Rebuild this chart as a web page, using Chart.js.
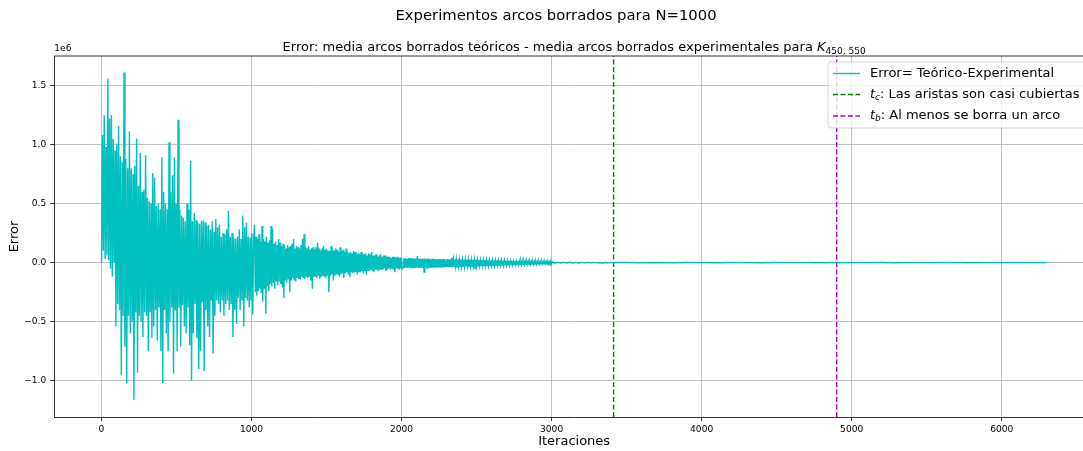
<!DOCTYPE html>
<html lang="es">
<head>
    <meta charset="UTF-8">
    <title>Experimentos arcos borrados para N=1000</title>
    <script src="https://cdn.jsdelivr.net/npm/chart.js"></script>
    <style>
        html, body { margin: 0; padding: 0; background: #fff; overflow: hidden; }
        #wrap { width: 1100px; height: 451px; }
    </style>
</head>
<body>
    <div id="wrap"><canvas id="errorChart" width="1100" height="451"></canvas></div>

    <script>
        // error (in units of 1e6), one block of iterations per array
        const errStartA = 0, errStepA = 6;
        const errA = [
            0.00, 1.08, 0.10, 1.25, 0.03, 0.98, 0.06, 1.56, 0.02, 1.22,
            -0.05, 1.25, -0.12, 1.05, 0.00, 0.95, -0.54, 1.01, -0.35, 1.16,
            -0.40, 0.90, -0.95, 0.85, -0.45, 1.61, -0.71, 0.88, -1.02, 0.80,
            -0.45, 1.11, -0.60, 0.80, -0.50, 0.75, -1.16, 0.82, -0.42, 1.05,
            -0.93, 0.65, -0.45, 0.93, -0.50, 0.60, -0.63, 0.62, -0.42, 0.91,
            -0.45, 0.55, -0.75, 0.52, -0.42, 0.50, -0.64, 0.76, -0.54, 0.72,
            -0.40, 0.48, -0.66, 0.50, -0.38, 0.45, -0.75, 0.89, -1.02, 0.60,
            -0.40, 0.50, -0.60, 0.45, -0.75, 1.02, -0.50, 0.60, -0.38, 0.74,
            -0.94, 0.89, -0.40, 0.50, -0.75, 1.21, -0.38, 0.45, -0.71, 0.40,
            -0.36, 0.38, -0.54, 0.35, -0.60, 0.50, -0.38, 0.45, -0.70, 0.86,
            -1.00, 0.35, -0.60, 0.42, -0.35, 0.36, -0.64, 0.34, -0.90, 0.33,
            -0.75, 0.35, -0.33, 0.36, -0.92, 0.34, -0.40, 0.31, -0.54, 0.32,
            -0.63, 0.28, -0.32, 0.35, -0.77, 0.26, -0.45, 0.37, -0.32, 0.30,
            -0.35, 0.32, -0.42, 0.22, -0.32, 0.25, -0.45, 0.24, -0.35, 0.28,
            -0.32, 0.44, -0.40, 0.22, -0.35, 0.25, -0.63, 0.21, -0.40, 0.20,
            -0.52, 0.22, -0.30, 0.28, -0.40, 0.20, -0.32, 0.40, -0.54, 0.30,
            -0.30, 0.34, -0.32, 0.22, -0.38, 0.21, -0.32, 0.25, -0.44, 0.20
        ];
        const errStartB = 1020, errStepB = 5;
        const errB = [
            0.32, -0.25, 0.22, -0.28, 0.20, -0.24, 0.24, -0.22, 0.18, -0.26,
            0.31, -0.33, 0.20, -0.22, 0.18, -0.43, 0.22, -0.20, 0.17, -0.24,
            0.19, -0.18, 0.31, -0.20, 0.29, -0.17, 0.16, -0.22, 0.18, -0.16,
            0.15, -0.19, 0.20, -0.16, 0.17, -0.18, 0.14, -0.21, 0.16, -0.30,
            0.14, -0.15, 0.12, -0.17, 0.15, -0.14, 0.13, -0.25, 0.14, -0.15,
            0.16, -0.13, 0.20, -0.15, 0.12, -0.16, 0.14, -0.13, 0.13, -0.14,
            0.12, -0.14, 0.15, -0.12, 0.20, -0.13, 0.24, -0.14, 0.13, -0.12,
            0.12, -0.13, 0.14, -0.12, 0.11, -0.15, 0.12, -0.22, 0.13, -0.12,
            0.11, -0.12, 0.13, -0.13, 0.17, -0.11, 0.12, -0.14, 0.10, -0.12,
            0.12, -0.11, 0.14, -0.12, 0.11, -0.13, 0.12, -0.11, 0.10, -0.25,
            0.10, -0.11, 0.14, -0.10, 0.11, -0.15, 0.10, -0.11, 0.12, -0.10,
            0.11, -0.10, 0.09, -0.12, 0.13, -0.10, 0.10, -0.09, 0.11, -0.13,
            0.09, -0.09, 0.12, -0.08, 0.09, -0.10, 0.08, -0.12, 0.09, -0.08,
            0.08, -0.09, 0.10, -0.08, 0.09, -0.08, 0.07, -0.10, 0.08, -0.08,
            0.07, -0.08, 0.09, -0.07, 0.08, -0.09, 0.07, -0.07, 0.08, -0.10,
            0.06, -0.07, 0.08, -0.07, 0.07, -0.06, 0.09, -0.07, 0.06, -0.08,
            0.06, -0.06, 0.07, -0.06, 0.05, -0.07, 0.06, -0.06, 0.07, -0.06,
            0.05, -0.06, 0.06, -0.05, 0.06, -0.07, 0.05, -0.06, 0.05, -0.05,
            0.05, -0.06, 0.04, -0.05, 0.05, -0.06, 0.05, -0.08, 0.04, -0.05,
            0.05, -0.05, 0.04, -0.06, 0.045, -0.05, 0.04, -0.05
        ];
        const errStartC = 2010, errStepC = 5;
        const errC = [
            -0.04, 0.035, -0.045, 0.04, -0.038, 0.03, -0.042, 0.038, -0.035, 0.04,
            -0.045, 0.036, -0.04, 0.04, -0.05, 0.033, -0.04, 0.038, -0.036, 0.056,
            -0.04, 0.035, -0.043, 0.03, -0.038, 0.034, -0.045, 0.032, -0.08, 0.035,
            -0.04, 0.03, -0.045, 0.035, -0.038, 0.032, -0.04, 0.028, -0.042, 0.034,
            -0.038, 0.03, -0.04, 0.033, -0.035, 0.028, -0.042, 0.03, -0.036, 0.032,
            -0.04, 0.028, -0.035, 0.032, -0.038, 0.03, -0.034, 0.027, -0.037, 0.03,
            -0.034, 0.028, -0.036, 0.03, -0.032, 0.042, -0.035, 0.027, -0.033, 0.029,
            -0.032, 0.027, -0.035, 0.028, -0.03, 0.026, -0.034, 0.028, -0.031, 0.025,
            -0.03, 0.026, -0.032, 0.025, -0.029, 0.027, -0.031, 0.024, -0.03, 0.026,
            -0.029, 0.024, -0.031, 0.025, -0.028, 0.023, -0.05, 0.025, -0.028, 0.022,
            -0.026, 0.022, -0.027, 0.021, -0.025, 0.023, -0.026, 0.02, -0.024, 0.022,
            -0.025, 0.021, -0.024, 0.02, -0.026, 0.021, -0.023, 0.019, -0.024, 0.02,
            -0.022, 0.019, -0.023, 0.018, -0.021, 0.02, -0.022, 0.017, -0.021, 0.019,
            -0.021, 0.018, -0.02, 0.017, -0.022, 0.018, -0.019, 0.016, -0.02, 0.017,
            -0.018, 0.016, -0.019, 0.015, -0.017, 0.016, -0.018, 0.014, -0.017, 0.015,
            -0.017, 0.014, -0.016, 0.015, -0.018, 0.013, -0.016, 0.014, -0.015, 0.013,
            -0.014, 0.012, -0.015, 0.012, -0.013, 0.012, -0.014, 0.011, -0.013, 0.012,
            -0.013, 0.011, -0.012, 0.011, -0.014, 0.01, -0.012, 0.011, -0.012, 0.01,
            -0.011, 0.01, -0.012, 0.009, -0.01, 0.01, -0.011, 0.009, -0.01, 0.009,
            -0.01, 0.009, -0.011, 0.008, -0.01, 0.008, -0.02, 0.008, -0.009, 0.008
        ];
        const errStartD = 3020, errStepD = 20;
        const errD = [
            -0.004, 0.003, -0.004, 0.003, -0.003, 0.003, -0.003, 0.002, -0.003, 0.002,
            -0.002, 0.002, -0.002, 0.002, -0.002, 0.001, -0.006, 0.001, -0.002, 0.001
        ];
        const errStartE = 3500, errStepE = 100;
        const errE = [
            0.001, -0.001, 0.001, -0.001, 0.001, 0, -0.001, 0.001, 0, -0.001,
            0.001, 0, 0, -0.001, 0.001, 0, 0, 0.001, -0.001, 0,
            0, 0.001, 0, -0.001, 0, 0, 0.001, 0, 0
        ];

        const tC = 3413;   // t_c
        const tB = 4900;   // t_b

        const xTicks = [0, 1000, 2000, 3000, 4000, 5000, 6000];
        const yTicks = [-1.0, -0.5, 0.0, 0.5, 1.0, 1.5];
        const xMin = -315, xMax = 6615;
        const yMin = -1.307, yMax = 1.75;

        const legendLabels = ['Error= Teórico-Experimental', ': Las aristas son casi cubiertas', ': Al menos se borra un arco'];

        function toPoints(start, step, vals) {
            return vals.map((v, i) => ({ x: start + i * step, y: v }));
        }

        const errorPoints = [].concat(
            toPoints(errStartA, errStepA, errA),
            toPoints(errStartB, errStepB, errB),
            toPoints(errStartC, errStepC, errC),
            toPoints(errStartD, errStepD, errD),
            toPoints(errStartE, errStepE, errE)
        );

        const FONT = "'DejaVu Sans', sans-serif";
        const CYAN = '#00bfbf', GREEN = '#008000', MAGENTA = '#bf00bf';

        const decor = {
            id: 'decor',
            afterDraw(chart) {
                const ctx = chart.ctx;
                const a = chart.chartArea;
                ctx.save();
                // top / right spines
                ctx.strokeStyle = '#000';
                ctx.lineWidth = 0.8;
                ctx.beginPath();
                ctx.moveTo(a.left, a.top); ctx.lineTo(a.right, a.top); ctx.lineTo(a.right, a.bottom);
                ctx.stroke();

                ctx.fillStyle = '#000';
                // suptitle
                ctx.font = '14.8px ' + FONT;
                ctx.textAlign = 'center';
                ctx.textBaseline = 'middle';
                ctx.fillText('Experimentos arcos borrados para N=1000', 556, 16);

                // axes title with K_{450,550}
                const main = 'Error: media arcos borrados teóricos - media arcos borrados experimentales para ';
                ctx.font = '13px ' + FONT;
                const w1 = ctx.measureText(main).width;
                ctx.font = 'italic 13px ' + FONT;
                const wK = ctx.measureText('K').width;
                ctx.font = '9px ' + FONT;
                const wSub = ctx.measureText('450, 550').width;
                let x0 = (a.left + a.right) / 2 - (w1 + wK + wSub) / 2;
                ctx.textAlign = 'left';
                ctx.textBaseline = 'alphabetic';
                ctx.font = '13px ' + FONT;
                ctx.fillText(main, x0, 51);
                ctx.font = 'italic 13px ' + FONT;
                ctx.fillText('K', x0 + w1, 51);
                ctx.font = '9px ' + FONT;
                ctx.fillText('450, 550', x0 + w1 + wK, 54);

                // offset text
                ctx.font = '9.1px ' + FONT;
                ctx.textBaseline = 'bottom';
                ctx.fillText('1e6', a.left, 53);

                // axis labels
                ctx.font = '13px ' + FONT;
                ctx.textAlign = 'center';
                ctx.textBaseline = 'middle';
                ctx.fillText('Iteraciones', (a.left + a.right) / 2, 442);
                ctx.translate(15, (a.top + a.bottom) / 2);
                ctx.rotate(-Math.PI / 2);
                ctx.fillText('Error', 0, 0);
                ctx.restore();

                // legend
                ctx.save();
                const bx = 828, by = 62, bw = 259, bh = 66;
                ctx.globalAlpha = 0.8;
                ctx.fillStyle = '#fff';
                ctx.beginPath();
                ctx.roundRect(bx, by, bw, bh, 3);
                ctx.fill();
                ctx.globalAlpha = 1;
                ctx.strokeStyle = '#cccccc';
                ctx.lineWidth = 0.8;
                ctx.stroke();

                const rows = [73.5, 94.5, 116];
                const cols = [CYAN, GREEN, MAGENTA];
                rows.forEach((ry, i) => {
                    ctx.strokeStyle = cols[i];
                    ctx.lineWidth = 1.4;
                    ctx.setLineDash(i === 0 ? [] : [5, 2.5]);
                    ctx.beginPath();
                    ctx.moveTo(833, ry); ctx.lineTo(860, ry);
                    ctx.stroke();
                });
                ctx.setLineDash([]);
                ctx.fillStyle = '#000';
                ctx.textAlign = 'left';
                ctx.textBaseline = 'middle';
                ctx.font = '13px ' + FONT;
                ctx.fillText(legendLabels[0], 870, rows[0]);
                ['c', 'b'].forEach((s, k) => {
                    const ry = rows[k + 1];
                    let x = 870;
                    ctx.font = 'italic 13px ' + FONT;
                    ctx.fillText('t', x, ry);
                    x += ctx.measureText('t').width;
                    ctx.font = 'italic 9px ' + FONT;
                    ctx.fillText(s, x, ry + 3);
                    x += ctx.measureText(s).width;
                    ctx.font = '13px ' + FONT;
                    ctx.fillText(legendLabels[k + 1], x, ry);
                });
                ctx.restore();
            }
        };

        const gridOpts = { color: '#b0b0b0', lineWidth: 0.8, tickColor: '#000', tickLength: 4 };
        const tickFont = { family: FONT, size: 9.1 };

        new Chart(document.getElementById('errorChart'), {
            type: 'line',
            data: {
                datasets: [
                    {
                        data: errorPoints,
                        borderColor: CYAN,
                        borderWidth: 1.4,
                        pointRadius: 0,
                        tension: 0,
                        fill: false
                    },
                    {
                        data: [{ x: tC, y: yMin }, { x: tC, y: yMax }],
                        borderColor: GREEN,
                        borderWidth: 1.4,
                        borderDash: [5, 2.5],
                        pointRadius: 0
                    },
                    {
                        data: [{ x: tB, y: yMin }, { x: tB, y: yMax }],
                        borderColor: MAGENTA,
                        borderWidth: 1.4,
                        borderDash: [5, 2.5],
                        pointRadius: 0
                    }
                ]
            },
            options: {
                responsive: false,
                animation: false,
                parsing: false,
                layout: { padding: { left: 0, right: 6, top: 56, bottom: 0 } },
                plugins: { legend: { display: false }, tooltip: { enabled: false } },
                scales: {
                    x: {
                        type: 'linear',
                        min: xMin,
                        max: xMax,
                        afterBuildTicks: s => { s.ticks = xTicks.map(v => ({ value: v })); },
                        afterFit: s => { s.height = 34; },
                        grid: gridOpts,
                        border: { color: '#000', width: 0.8 },
                        ticks: { font: tickFont, color: '#000', padding: 3, maxRotation: 0, callback: v => String(v) }
                    },
                    y: {
                        type: 'linear',
                        min: yMin,
                        max: yMax,
                        afterBuildTicks: s => { s.ticks = yTicks.map(v => ({ value: v })); },
                        afterFit: s => { s.width = 54.25; },
                        grid: gridOpts,
                        border: { color: '#000', width: 0.8 },
                        ticks: { font: tickFont, color: '#000', padding: 4, callback: v => v.toFixed(1).replace('-', '\u2212') }
                    }
                }
            },
            plugins: [decor]
        });
    </script>
</body>
</html>
